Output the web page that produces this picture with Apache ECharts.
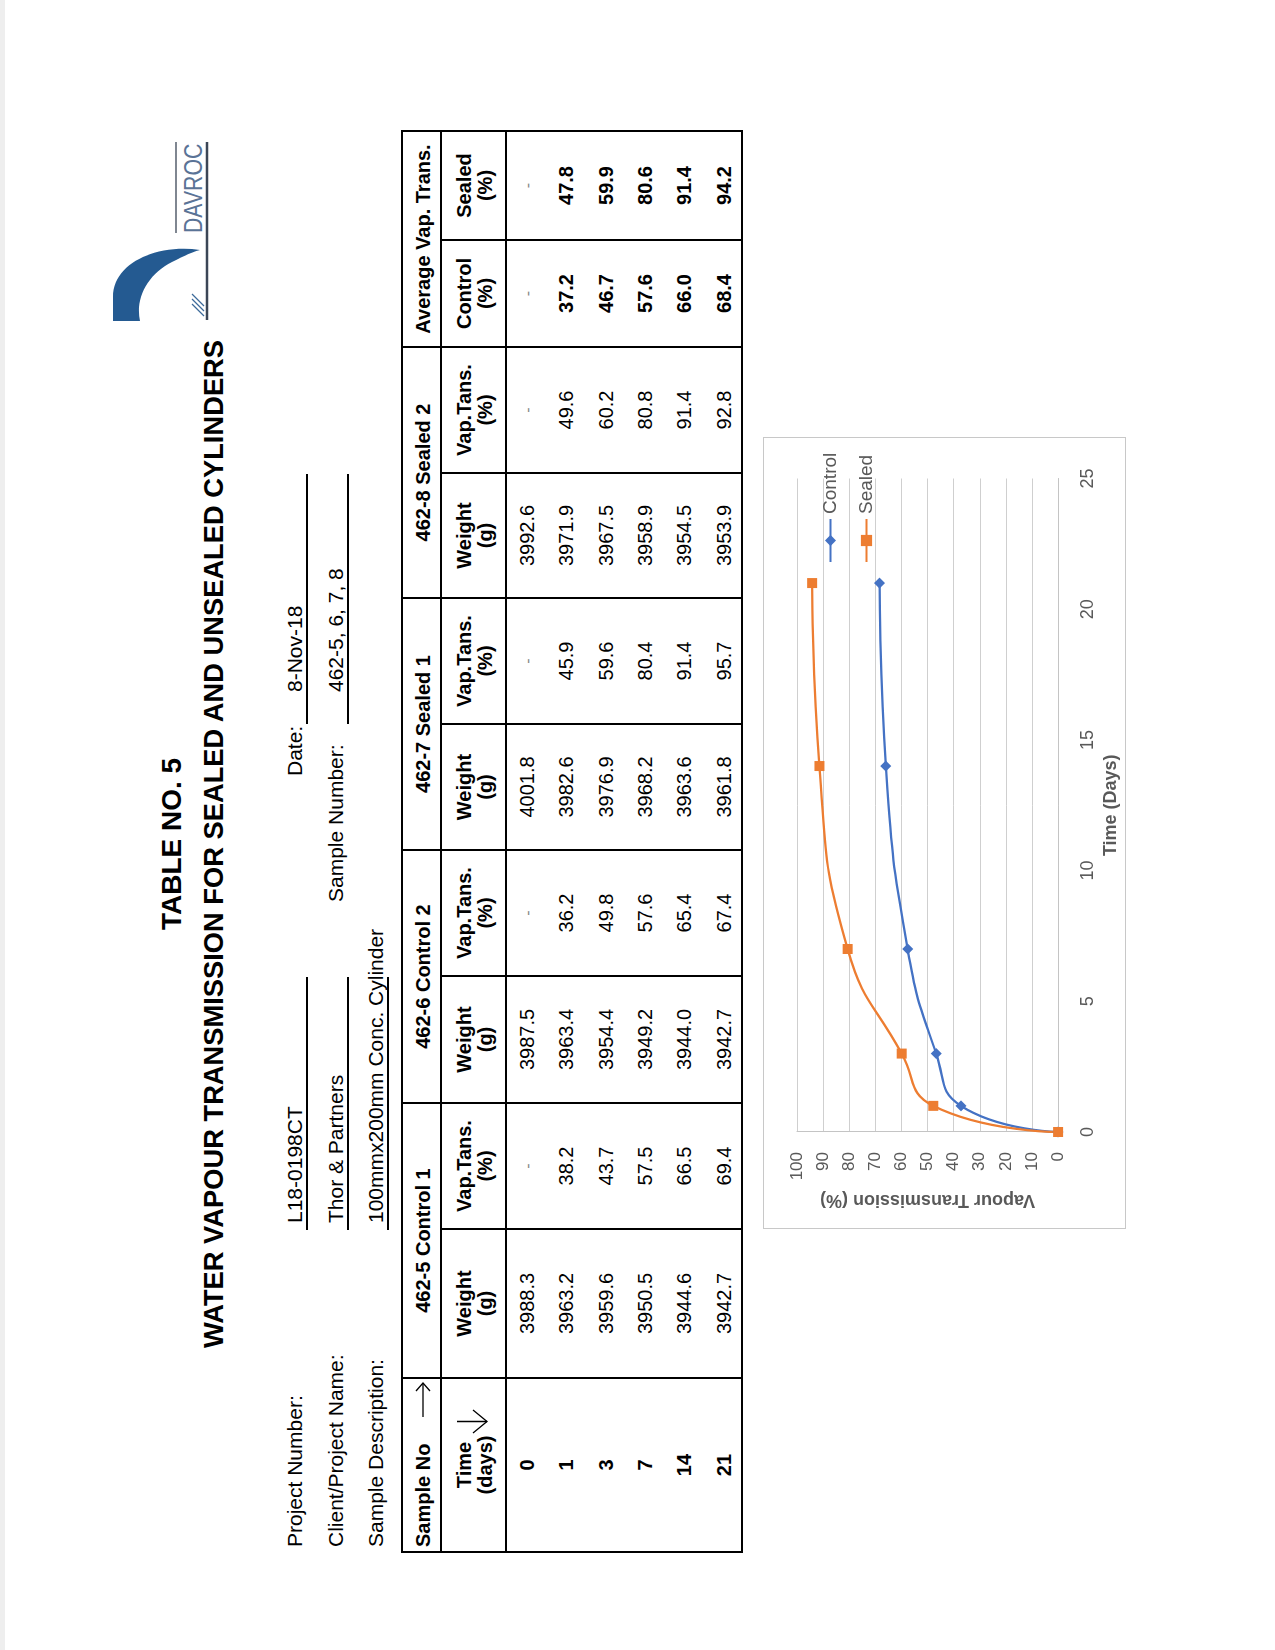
<!DOCTYPE html>
<html>
<head>
<meta charset="utf-8">
<script src="https://cdn.jsdelivr.net/npm/echarts@6/dist/echarts.min.js"></script>
<style>
html,body{margin:0;padding:0;background:#fff;width:1275px;height:1650px;overflow:hidden;}
#page{position:absolute;left:0;top:0;width:1650px;height:1275px;transform-origin:0 0;
  transform:translate(0px,1650px) rotate(-90deg);font-family:"Liberation Sans",Arial,sans-serif;color:#000;background:#fff;}
.t{position:absolute;white-space:nowrap;}
.c{position:absolute;display:flex;align-items:center;justify-content:center;text-align:center;white-space:nowrap;box-sizing:border-box;}
.ln{position:absolute;background:#000;}
</style>
</head>
<body>
<div id="page"></div>
<script>
// ---------------- data ----------------
const timeDays   = [0, 1, 3, 7, 14, 21];
const c1Weight   = [3988.3, 3963.2, 3959.6, 3950.5, 3944.6, 3942.7];
const c1Vap      = [null, 38.2, 43.7, 57.5, 66.5, 69.4];
const c2Weight   = [3987.5, 3963.4, 3954.4, 3949.2, 3944.0, 3942.7];
const c2Vap      = [null, 36.2, 49.8, 57.6, 65.4, 67.4];
const s1Weight   = [4001.8, 3982.6, 3976.9, 3968.2, 3963.6, 3961.8];
const s1Vap      = [null, 45.9, 59.6, 80.4, 91.4, 95.7];
const s2Weight   = [3992.6, 3971.9, 3967.5, 3958.9, 3954.5, 3953.9];
const s2Vap      = [null, 49.6, 60.2, 80.8, 91.4, 92.8];
const avgControl = [null, 37.2, 46.7, 57.6, 66.0, 68.4];
const avgSealed  = [null, 47.8, 59.9, 80.6, 91.4, 94.2];

const chartDays    = [0, 1, 3, 7, 14, 21];
const chartControl = [0, 37.2, 46.7, 57.6, 66.0, 68.4];
const chartSealed  = [0, 47.8, 59.9, 80.6, 91.4, 94.2];

const groupHeaders = ['462-5 Control 1', '462-6 Control 2', '462-7 Sealed 1', '462-8 Sealed 2', 'Average Vap. Trans.'];
const subHeaders = ['Weight<br>(g)', 'Vap.Tans.<br>(%)', 'Weight<br>(g)', 'Vap.Tans.<br>(%)', 'Weight<br>(g)', 'Vap.Tans.<br>(%)', 'Weight<br>(g)', 'Vap.Tans.<br>(%)', 'Control<br>(%)', 'Sealed<br>(%)'];
const xTicks = {min: 0, max: 25, interval: 5};
const yTicks = {min: 0, max: 100, interval: 10};

// ---------------- page helpers ----------------
const page = document.getElementById('page');
function el(cls, style, html) {
  const d = document.createElement('div');
  if (cls) d.className = cls;
  Object.assign(d.style, style);
  if (html != null) d.innerHTML = html;
  page.appendChild(d);
  return d;
}
function text(str, u, base, size, bold, center, extra) {
  return el('t', Object.assign({left: u + 'px', top: (base - 0.8465 * size) + 'px', fontSize: size + 'px', lineHeight: size + 'px',
    fontWeight: bold ? 'bold' : 'normal', transform: center ? 'translateX(-50%)' : 'none'}, extra || {}), str);
}
function hl(u0, u1, v, w) { w = w || 2; el('ln', {left: (u0 - w / 2) + 'px', top: (v - w / 2) + 'px', width: (u1 - u0 + w) + 'px', height: w + 'px'}); }
function vl(u, v0, v1, w) { w = w || 2; el('ln', {left: (u - w / 2) + 'px', top: (v0 - w / 2) + 'px', width: w + 'px', height: (v1 - v0 + w) + 'px'}); }
function cell(u0, u1, v0, v1, html, size, bold, extra) {
  return el('c', Object.assign({left: u0 + 'px', top: v0 + 'px', width: (u1 - u0) + 'px', height: (v1 - v0) + 'px',
    fontSize: size + 'px', lineHeight: '21px', fontWeight: bold ? 'bold' : 'normal'}, extra || {}), html);
}

// faint scan edge
el('', {position: 'absolute', left: '0px', top: '0px', width: '1650px', height: '5px', background: '#eeeeee'});

// ---------------- titles ----------------
text('TABLE NO. 5', 806, 182, 28, true, true);
text('WATER VAPOUR TRANSMISSION FOR SEALED AND UNSEALED CYLINDERS', 806, 223, 27.3, true, true);

// ---------------- logo ----------------
el('', {position: 'absolute', left: '1320px', top: '100px', width: '200px', height: '115px'},
  '<svg width="200" height="115" xmlns="http://www.w3.org/2000/svg">' +
  '<path d="M9 13 L9 40 C32 35 56 48 68 72 C74 84 78 92 80 100 C86 58 68 13 33 13 Z" fill="#245a91"/>' +
  '<g stroke="#3d6a9a" stroke-width="1.3"><line x1="14" y1="104" x2="26" y2="92"/><line x1="19" y1="104" x2="31" y2="92"/><line x1="24" y1="104" x2="36" y2="92"/></g>' +
  '<line x1="10" y1="107" x2="188" y2="107" stroke="#3b4656" stroke-width="2.5"/>' +
  '<line x1="97" y1="76" x2="188" y2="76" stroke="#3b4656" stroke-width="1.3"/>' +
  '</svg>');
text('DAVROC', 1417, 202, 25, false, false, {color: '#5a7396', transform: 'scaleX(0.85)', transformOrigin: '0 0'});

// ---------------- info block ----------------
const infoSize = 21;
text('Project Number:', 103, 302, infoSize);
text('L18-0198CT', 427, 302, infoSize);
text('Date:', 874, 302, infoSize);
text('8-Nov-18', 958, 302, infoSize);
text('Client/Project Name:', 103, 343, infoSize);
text('Thor &amp; Partners', 427, 343, infoSize);
text('Sample Number:', 748, 343, infoSize);
text('462-5, 6, 7, 8', 958, 343, infoSize);
text('Sample Description:', 103, 383, infoSize);
text('100mmx200mm Conc. Cylinder', 427, 383, infoSize);
hl(421, 672, 307); hl(421, 672, 348); hl(421, 672, 388);
hl(927, 1175, 307); hl(927, 1175, 348);

// ---------------- table ----------------
const U = [98, 272, 421, 547, 674, 800, 926, 1052, 1177, 1303, 1410, 1519];
const V0 = 402, V1 = 441, V2 = 506, V3 = 742;
const rowH = (V3 - V2) / timeDays.length;

hl(U[0], U[11], V0); hl(U[0], U[11], V1); hl(U[0], U[11], V2); hl(U[0], U[11], V3);
[0, 1, 3, 5, 7, 9, 11].forEach(i => vl(U[i], V0, V3));
[2, 4, 6, 8, 10].forEach(i => vl(U[i], V1, V3));

// header row 1
el('t', {left: '103px', top: V0 + 'px', height: (V1 - V0) + 'px', lineHeight: (V1 - V0 + 4) + 'px', fontSize: '20px', fontWeight: 'bold'}, 'Sample No');
el('', {position: 'absolute', left: '233px', top: '415px', width: '36px', height: '16px'},
  '<svg width="36" height="16"><line x1="0" y1="8" x2="34" y2="8" stroke="#000" stroke-width="1.3"/><polyline points="26,1 34,8 26,15" fill="none" stroke="#000" stroke-width="1.3"/></svg>');
groupHeaders.forEach((g, k) => cell(U[1 + 2 * k], U[3 + 2 * k], V0, V1, g, 20, true, {paddingTop: '4px'}));

// header row 2
cell(130, 240, V1, V2, 'Time<br>(days)', 20, true, {paddingTop: '2px'});
el('', {position: 'absolute', left: '216px', top: '457px', width: '26px', height: '32px'},
  '<svg width="26" height="32"><line x1="12.5" y1="0" x2="12.5" y2="30" stroke="#000" stroke-width="1.3"/><polyline points="1,16 12.5,30 24,16" fill="none" stroke="#000" stroke-width="1.3"/></svg>');
subHeaders.forEach((h, k) => cell(U[1 + k], U[2 + k], V1, V2, h, 20, true, {paddingTop: '2px'}));

// data rows
const dataCols = [c1Weight, c1Vap, c2Weight, c2Vap, s1Weight, s1Vap, s2Weight, s2Vap, avgControl, avgSealed];
timeDays.forEach((d, r) => {
  const v0 = V2 + r * rowH, v1 = v0 + rowH;
  cell(U[0], U[1], v0, v1, String(d), 20, true, {paddingTop: '4px'});
  dataCols.forEach((col, k) => {
    const val = col[r];
    const bold = k >= 8;
    if (val == null) {
      cell(U[1 + k], U[2 + k], v0, v1, '-', 16, false, {paddingTop: '4px', color: '#8a8a8a'});
    } else {
      cell(U[1 + k], U[2 + k], v0, v1, val.toFixed(1), 20, bold, {paddingTop: '4px'});
    }
  });
});

// ---------------- chart ----------------
el('', {position: 'absolute', left: '421px', top: '763px', width: '792px', height: '363px', border: '1px solid #c8c8c8', boxSizing: 'border-box'});
const chartDiv = el('', {position: 'absolute', left: '422px', top: '764px', width: '790px', height: '361px'});
const chart = echarts.init(chartDiv, null, {renderer: 'canvas'});
const axisColor = '#595959';
chart.setOption({
  animation: false,
  textStyle: {fontFamily: 'Liberation Sans, Arial, sans-serif'},
  grid: {left: 96, right: 40.5, top: 33, bottom: 55, containLabel: false},
  legend: {
    data: ['Control', 'Sealed'], orient: 'vertical', left: 665, top: 57, padding: 0,
    itemWidth: 43, itemHeight: 14, itemGap: 17,
    textStyle: {fontSize: 19, color: axisColor}
  },
  xAxis: {
    type: 'value', min: xTicks.min, max: xTicks.max, interval: xTicks.interval,
    name: 'Time (Days)', nameLocation: 'middle', nameGap: 31,
    nameTextStyle: {fontSize: 18, fontWeight: 'bold', color: axisColor},
    axisLine: {show: true, lineStyle: {color: '#c4c4c4', width: 1}},
    axisTick: {show: false},
    axisLabel: {fontSize: 18, color: axisColor, margin: 21},
    splitLine: {show: false}
  },
  yAxis: {
    type: 'value', min: yTicks.min, max: yTicks.max, interval: yTicks.interval,
    name: 'Vapour Transmission (%)', nameLocation: 'middle', nameGap: 57, nameRotate: 90,
    nameTextStyle: {fontSize: 18, fontWeight: 'bold', color: axisColor},
    axisLine: {show: true, lineStyle: {color: '#c4c4c4', width: 1}},
    axisTick: {show: false},
    axisLabel: {fontSize: 17, color: axisColor, margin: 20},
    splitLine: {show: true, lineStyle: {color: '#cfcfcf', width: 1}}
  },
  series: [
    {
      name: 'Control', type: 'line', smooth: 0.5,
      data: chartDays.map((d, i) => [d, chartControl[i]]),
      symbol: 'diamond', symbolSize: 11,
      lineStyle: {width: 2.25, color: '#4472C4'}, itemStyle: {color: '#4472C4'}
    },
    {
      name: 'Sealed', type: 'line', smooth: 0.5,
      data: chartDays.map((d, i) => [d, chartSealed[i]]),
      symbol: 'rect', symbolSize: 10,
      lineStyle: {width: 2.25, color: '#ED7D31'}, itemStyle: {color: '#ED7D31'}
    }
  ]
});
</script>
</body>
</html>
